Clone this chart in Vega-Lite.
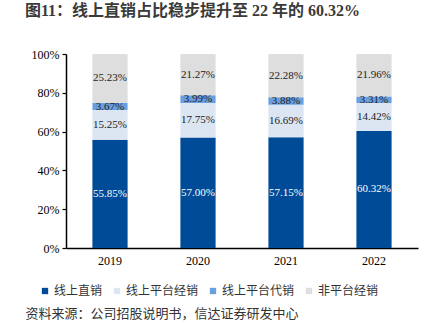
{
  "$schema": "https://vega.github.io/schema/vega-lite/v6.json",
  "autosize": {"type": "none"},
  "width": 352,
  "height": 194,
  "padding": {"left": 66, "top": 54, "right": 10, "bottom": 75},
  "background": "white",
  "title": {
    "text": "图11：线上直销占比稳步提升至 22 年的 60.32%",
    "anchor": "start",
    "frame": "group",
    "dx": -41,
    "offset": 29,
    "font": "Liberation Serif, Noto Sans CJK SC",
    "fontSize": 16,
    "fontWeight": "bold",
    "color": "#3a3a3a"
  },
  "config": {
    "view": {"stroke": null},
    "font": "Liberation Serif, Noto Sans CJK SC",
    "axisY": {"labelOverlap": false}
  },
  "data": {
    "values": [
      {"year": "2019", "cat": "线上直销", "ord": 0, "share": 0.5585},
      {"year": "2019", "cat": "线上平台经销", "ord": 1, "share": 0.1525},
      {"year": "2019", "cat": "线上平台代销", "ord": 2, "share": 0.0367},
      {"year": "2019", "cat": "非平台经销", "ord": 3, "share": 0.2523},
      {"year": "2020", "cat": "线上直销", "ord": 0, "share": 0.5700},
      {"year": "2020", "cat": "线上平台经销", "ord": 1, "share": 0.1775},
      {"year": "2020", "cat": "线上平台代销", "ord": 2, "share": 0.0399},
      {"year": "2020", "cat": "非平台经销", "ord": 3, "share": 0.2127},
      {"year": "2021", "cat": "线上直销", "ord": 0, "share": 0.5715},
      {"year": "2021", "cat": "线上平台经销", "ord": 1, "share": 0.1669},
      {"year": "2021", "cat": "线上平台代销", "ord": 2, "share": 0.0388},
      {"year": "2021", "cat": "非平台经销", "ord": 3, "share": 0.2228},
      {"year": "2022", "cat": "线上直销", "ord": 0, "share": 0.6032},
      {"year": "2022", "cat": "线上平台经销", "ord": 1, "share": 0.1442},
      {"year": "2022", "cat": "线上平台代销", "ord": 2, "share": 0.0331},
      {"year": "2022", "cat": "非平台经销", "ord": 3, "share": 0.2196}
    ]
  },
  "encoding": {
    "x": {
      "field": "year",
      "type": "nominal",
      "scale": {"paddingInner": 0.6, "paddingOuter": 0.3},
      "axis": {
        "title": "资料来源：公司招股说明书，信达证券研发中心",
        "titleAnchor": "start",
        "titleAlign": "left",
        "titleBaseline": "middle",
        "titleX": -41,
        "titleY": 65,
        "titleFont": "Noto Sans CJK SC",
        "titleFontSize": 13,
        "titleFontWeight": "normal",
        "titleColor": "#333333",
        "labelAngle": 0,
        "labelFontSize": 12,
        "labelColor": "#000000",
        "labelPadding": 7,
        "ticks": false,
        "domainColor": "#000000",
        "domainWidth": 1.5
      }
    }
  },
  "layer": [
    {
      "mark": {"type": "bar"},
      "encoding": {
        "y": {
          "field": "share",
          "type": "quantitative",
          "stack": "zero",
          "scale": {"domain": [0, 1]},
          "axis": {
            "title": null,
            "values": [0, 0.2, 0.4, 0.6, 0.8, 1],
            "format": ".0%",
            "labelOverlap": false,
            "labelFontSize": 12,
            "labelColor": "#000000",
            "grid": false,
            "domainColor": "#000000",
            "domainWidth": 1.5,
            "tickColor": "#000000",
            "tickSize": 4,
            "tickWidth": 1.2,
            "labelPadding": 3
          }
        },
        "order": {"field": "ord", "type": "quantitative", "sort": "ascending"},
        "color": {
          "field": "cat",
          "type": "nominal",
          "scale": {
            "domain": ["线上直销", "线上平台经销", "线上平台代销", "非平台经销"],
            "range": ["#004B97", "#DCE6F2", "#6A9FDF", "#DEDEDE"]
          },
          "legend": {
            "title": null,
            "orient": "none",
            "direction": "horizontal",
            "legendX": -27,
            "legendY": 231,
            "symbolType": "square",
            "symbolSize": 40,
            "symbolStrokeWidth": 0,
            "labelFont": "Noto Sans CJK SC",
            "labelFontSize": 12,
            "labelColor": "#333333",
            "labelOffset": 3,
            "columnPadding": 8
          }
        }
      }
    },
    {
      "transform": [
        {"stack": "share", "groupby": ["year"], "sort": [{"field": "ord", "order": "ascending"}], "as": ["y0", "y1"]},
        {"fold": ["y0", "y1"], "as": ["edge", "edgeValue"]},
        {"aggregate": [{"op": "mean", "field": "edgeValue", "as": "mid"}], "groupby": ["year", "cat", "ord", "share"]}
      ],
      "mark": {"type": "text", "fontSize": 11, "baseline": "middle", "align": "center"},
      "encoding": {
        "y": {
          "field": "mid",
          "type": "quantitative",
          "axis": {
            "title": null,
            "values": [0, 0.2, 0.4, 0.6, 0.8, 1],
            "format": ".0%",
            "labelOverlap": false,
            "labelFontSize": 12,
            "labelColor": "#000000",
            "grid": false,
            "domainColor": "#000000",
            "domainWidth": 1.5,
            "tickColor": "#000000",
            "tickSize": 4,
            "tickWidth": 1.2,
            "labelPadding": 3
          }
        },
        "text": {"field": "share", "type": "quantitative", "format": ".2%"},
        "color": {
          "condition": {"test": "datum.ord === 0", "value": "#ffffff"},
          "value": "#222222"
        }
      }
    }
  ]
}
